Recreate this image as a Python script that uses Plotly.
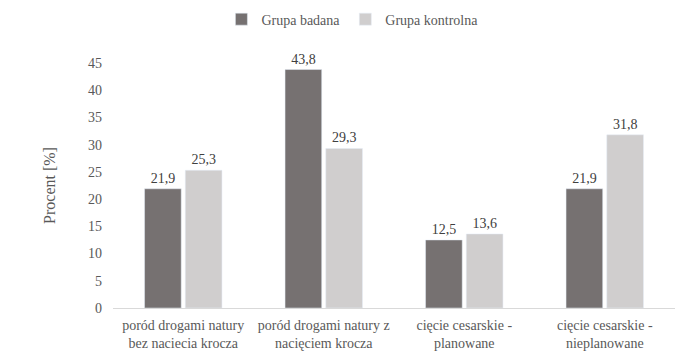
import plotly.graph_objects as go

categories = ["poród drogami natury<br>bez naciecia krocza",
              "poród drogami natury z<br>nacięciem krocza",
              "cięcie cesarskie -<br>planowane",
              "cięcie cesarskie -<br>nieplanowane"]
badana = [21.9, 43.8, 12.5, 21.9]
kontrolna = [25.3, 29.3, 13.6, 31.8]
series_names = ["Grupa badana", "Grupa kontrolna"]

def lab(v):
    return [f"{x:.1f}".replace(".", ",") for x in v]

font_family = "Liberation Serif, Times New Roman, serif"
fig = go.Figure()
fig.add_trace(go.Bar(x=categories, y=badana, name=series_names[0], marker_color="#767171",
                     text=lab(badana), textposition="outside", cliponaxis=False,
                     textfont=dict(size=14, color="#404040")))
fig.add_trace(go.Bar(x=categories, y=kontrolna, name=series_names[1], marker_color="#d0cece",
                     text=lab(kontrolna), textposition="outside", cliponaxis=False,
                     textfont=dict(size=14, color="#404040")))
fig.update_layout(
    width=691, height=355, barmode="group", bargap=0.42, bargroupgap=0.1,
    paper_bgcolor="white", plot_bgcolor="white",
    font=dict(family=font_family, size=14, color="#595959"),
    margin=dict(l=113, r=16, t=63, b=47, autoexpand=False),
    legend=dict(orientation="h", x=0.51, xref="container", xanchor="center", y=0.99,
                yref="container", yanchor="top", itemwidth=30,
                font=dict(size=14, color="#595959"), traceorder="normal"),
    showlegend=True,
)
fig.update_xaxes(showline=True, linecolor="#d9d9d9", linewidth=1, ticks="", tickfont=dict(size=14),
                 ticklabelstandoff=4, automargin=False)
fig.update_yaxes(range=[0, 45], dtick=5, showgrid=False, zeroline=False, showline=False,
                 title=dict(text="Procent [%]", font=dict(size=16), standoff=28),
                 tickfont=dict(size=14), ticks="", ticklen=0, ticklabelstandoff=10,
                 automargin=False)
fig.write_html("out.html", config={"displayModeBar": False},
               post_script="document.body.style.margin='0';")
